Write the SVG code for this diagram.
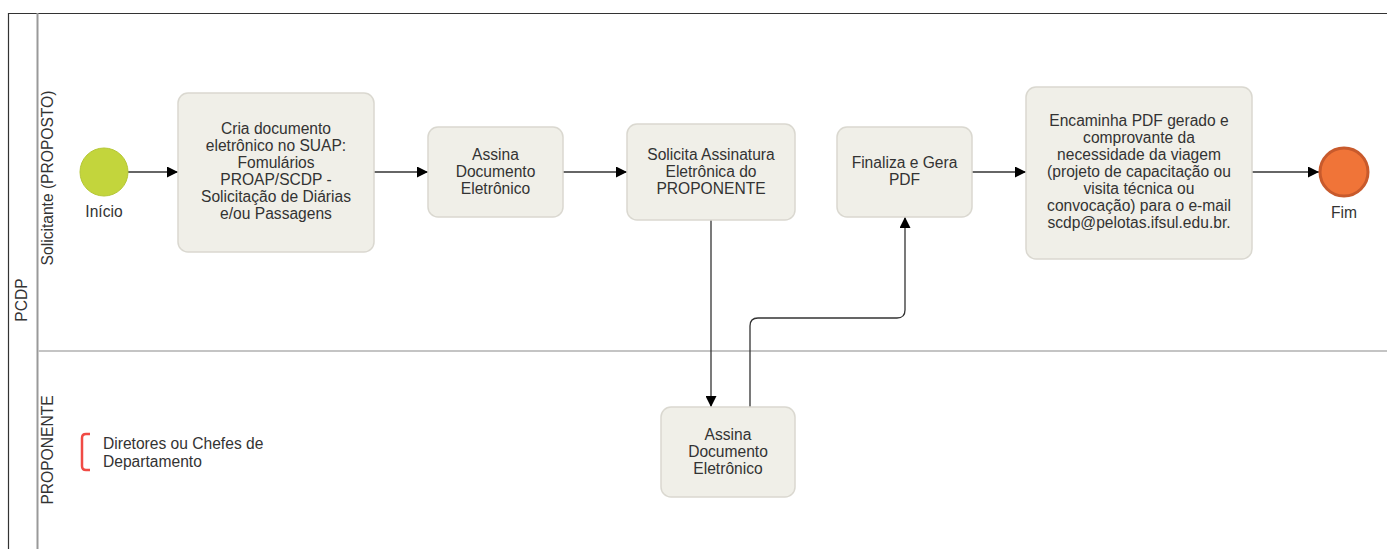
<svg xmlns="http://www.w3.org/2000/svg" width="1387" height="549" viewBox="0 0 1387 549">
<defs>
<style>
text{font-family:"Liberation Sans",Arial,sans-serif;font-size:15.6px;fill:#333}
.t{text-anchor:middle}
.box{fill:#F0EFE8;stroke:#DAD8D0;stroke-width:1.5}
.conn{fill:none;stroke:#333;stroke-width:1.3}
</style>
<marker id="ah" viewBox="0 0 10 10" refX="10" refY="5" markerWidth="11" markerHeight="11" markerUnits="userSpaceOnUse" orient="auto">
<path d="M0,0 L10,5 L0,10 z" fill="#000"/>
</marker>
</defs>
<rect width="1387" height="549" fill="#fff"/>
<g id="pool">
<path d="M8.5,549 V13.5 H1387" fill="none" stroke="#333" stroke-width="1.2"/>
<line x1="37.5" y1="13" x2="37.5" y2="549" stroke="#999" stroke-width="2"/>
<line x1="38" y1="351" x2="1387" y2="351" stroke="#C4C4C4" stroke-width="2"/>
<text class="t" transform="translate(27,300) rotate(-90)">PCDP</text>
<text class="t" transform="translate(53,178) rotate(-90)">Solicitante (PROPOSTO)</text>
<text class="t" transform="translate(53,450) rotate(-90)">PROPONENTE</text>
</g>
<g id="connectors">
<line class="conn" x1="128" y1="172" x2="178" y2="172" marker-end="url(#ah)"/>
<line class="conn" x1="374" y1="172" x2="428" y2="172" marker-end="url(#ah)"/>
<line class="conn" x1="563" y1="172" x2="627" y2="172" marker-end="url(#ah)"/>
<line class="conn" x1="972" y1="172" x2="1026" y2="172" marker-end="url(#ah)"/>
<line class="conn" x1="1252" y1="172" x2="1319" y2="172" marker-end="url(#ah)"/>
<line class="conn" x1="711" y1="220" x2="711" y2="407" marker-end="url(#ah)"/>
<path class="conn" d="M750,407 V326 Q750,318 758,318 H897 Q905,318 905,310 V217" marker-end="url(#ah)"/>
</g>
<g id="start">
<circle cx="104" cy="172" r="24" fill="#C3D53C" stroke="#B5C736" stroke-width="1"/>
<text class="t" x="104" y="217">Início</text>
</g>
<g id="task1">
<rect class="box" x="178" y="93" width="196" height="159" rx="10"/>
<text class="t" x="276" y="134">Cria documento</text>
<text class="t" x="276" y="151">eletrônico no SUAP:</text>
<text class="t" x="276" y="168">Fomulários</text>
<text class="t" x="276" y="185">PROAP/SCDP -</text>
<text class="t" x="276" y="202">Solicitação de Diárias</text>
<text class="t" x="276" y="219">e/ou Passagens</text>
</g>
<g id="task2">
<rect class="box" x="428" y="127" width="135" height="90" rx="10"/>
<text class="t" x="495.5" y="160">Assina</text>
<text class="t" x="495.5" y="177">Documento</text>
<text class="t" x="495.5" y="194">Eletrônico</text>
</g>
<g id="task3">
<rect class="box" x="627" y="124" width="168" height="96" rx="10"/>
<text class="t" x="711" y="160">Solicita Assinatura</text>
<text class="t" x="711" y="177">Eletrônica do</text>
<text class="t" x="711" y="194">PROPONENTE</text>
</g>
<g id="task4">
<rect class="box" x="837" y="127" width="135" height="90" rx="10"/>
<text class="t" x="904.5" y="168">Finaliza e Gera</text>
<text class="t" x="904.5" y="185">PDF</text>
</g>
<g id="task5">
<rect class="box" x="1026" y="87" width="226" height="172" rx="10"/>
<text class="t" x="1139" y="126">Encaminha PDF gerado e</text>
<text class="t" x="1139" y="143">comprovante da</text>
<text class="t" x="1139" y="160">necessidade da viagem</text>
<text class="t" x="1139" y="177">(projeto de capacitação ou</text>
<text class="t" x="1139" y="194">visita técnica ou</text>
<text class="t" x="1139" y="211">convocação) para o e-mail</text>
<text class="t" x="1139" y="228">scdp@pelotas.ifsul.edu.br.</text>
</g>
<g id="end">
<circle cx="1344" cy="172" r="24" fill="#F07438" stroke="#C85A2C" stroke-width="3"/>
<text class="t" x="1344" y="218">Fim</text>
</g>
<g id="task6">
<rect class="box" x="661" y="407" width="134" height="90" rx="10"/>
<text class="t" x="728" y="440">Assina</text>
<text class="t" x="728" y="457">Documento</text>
<text class="t" x="728" y="474">Eletrônico</text>
</g>
<g id="annotation">
<path d="M90,434 H86 Q82,434 82,438 V466 Q82,470 86,470 H90" fill="none" stroke="#F04B45" stroke-width="2.5"/>
<text x="103" y="449">Diretores ou Chefes de</text>
<text x="103" y="467">Departamento</text>
</g>
</svg>
